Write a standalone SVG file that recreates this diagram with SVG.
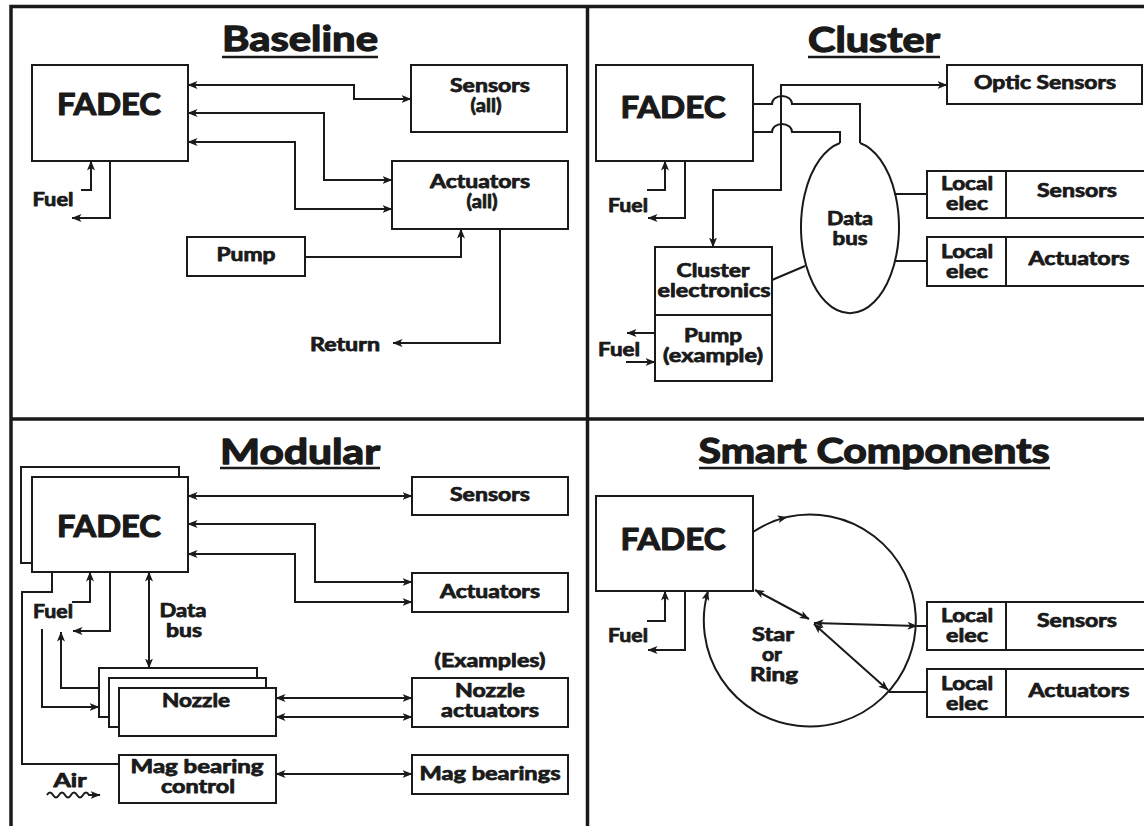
<svg xmlns="http://www.w3.org/2000/svg" width="1144" height="826" viewBox="0 0 1144 826">
<defs>
<marker id="ah" viewBox="0 0 10 8" markerWidth="10" markerHeight="8" refX="9.5" refY="4" orient="auto-start-reverse" markerUnits="userSpaceOnUse">
<path d="M0,0 L10,4 L0,8 L2.5,4 z" fill="#1a1a1a"/>
</marker>
<style>
.t{font-family:Lato,"Open Sans","Liberation Sans",sans-serif;font-weight:700;fill:#1a1a1a;stroke:#1a1a1a;stroke-linejoin:round;text-anchor:middle}
.ti{font-size:35px;stroke-width:1.3px}
.fd{font-size:31px;stroke-width:1.2px}
.l{font-size:18px;stroke-width:0.75px}
.b{fill:#fff;stroke:#1a1a1a;stroke-width:2}
.c{fill:none;stroke:#1a1a1a;stroke-width:2}
.a2{marker-start:url(#ah);marker-end:url(#ah)}
.a1{marker-end:url(#ah)}
.u{stroke:#1a1a1a;stroke-width:2.5}
.fr{stroke:#1a1a1a;stroke-width:3.5;fill:none}
</style>
</defs>
<rect width="1144" height="826" fill="#fff"/>
<g id="frame">
<path class="fr" d="M11,826 V6.5 H1144 M587.5,6.5 V826 M11,419 H1144"/>
</g>

<!-- Baseline -->
<g id="baseline-title"><text class="t ti" x="300" y="51" textLength="156" lengthAdjust="spacingAndGlyphs">Baseline</text><line class="u" x1="222" y1="57" x2="378" y2="57"/></g>
<g id="b-fadec"><rect class="b" x="32" y="65" width="156" height="96"/><text class="t fd" x="109" y="115" textLength="104" lengthAdjust="spacingAndGlyphs">FADEC</text></g>
<g id="b-sensors"><rect class="b" x="411" y="65" width="156" height="67"/><text class="t l" x="490" y="92" textLength="80" lengthAdjust="spacingAndGlyphs">Sensors</text><text class="t l" x="486" y="112" textLength="31" lengthAdjust="spacingAndGlyphs">(all)</text></g>
<g id="b-actuators"><rect class="b" x="392" y="161" width="176" height="68"/><text class="t l" x="480" y="188" textLength="100" lengthAdjust="spacingAndGlyphs">Actuators</text><text class="t l" x="482" y="208" textLength="31" lengthAdjust="spacingAndGlyphs">(all)</text></g>
<g id="b-pump"><rect class="b" x="187" y="237" width="118" height="39"/><text class="t l" x="246" y="261" textLength="59" lengthAdjust="spacingAndGlyphs">Pump</text></g>
<g id="b-fuel"><text class="t l" x="53" y="206" textLength="41" lengthAdjust="spacingAndGlyphs">Fuel</text></g>
<g id="b-return"><text class="t l" x="345" y="351" textLength="70" lengthAdjust="spacingAndGlyphs">Return</text></g>
<g id="b-connectors">
<path class="c a2" d="M188,85 H354 V99 H411"/>
<path class="c a2" d="M188,113 H324 V180 H392"/>
<path class="c a2" d="M188,142 H295 V209 H392"/>
<path class="c a1" d="M81,190 H91 V161"/>
<path class="c a1" d="M110,161 V218 H72"/>
<path class="c a1" d="M305,257 H461 V229"/>
<path class="c a1" d="M500,229 V343 H393"/>
</g>

<!-- Cluster -->
<g id="cluster-title"><text class="t ti" x="874" y="52" textLength="132" lengthAdjust="spacingAndGlyphs">Cluster</text><line class="u" x1="808" y1="57" x2="940" y2="57"/></g>
<g id="c-fadec"><rect class="b" x="596" y="65" width="157" height="96"/><text class="t fd" x="673" y="118" textLength="105" lengthAdjust="spacingAndGlyphs">FADEC</text></g>
<g id="c-optic"><rect class="b" x="947" y="65" width="195" height="39"/><text class="t l" x="1045" y="89" textLength="142" lengthAdjust="spacingAndGlyphs">Optic Sensors</text></g>
<g id="c-databus"><path class="c" d="M840,143 A49,86 0 1 0 860,143"/><text class="t l" x="850" y="225" textLength="46" lengthAdjust="spacingAndGlyphs">Data</text><text class="t l" x="850" y="245" textLength="35" lengthAdjust="spacingAndGlyphs">bus</text></g>
<g id="c-sensors"><rect class="b" x="927" y="171" width="230" height="47"/><line class="c" x1="1006" y1="171" x2="1006" y2="218"/><text class="t l" x="967" y="190" textLength="52" lengthAdjust="spacingAndGlyphs">Local</text><text class="t l" x="967" y="210" textLength="42" lengthAdjust="spacingAndGlyphs">elec</text><text class="t l" x="1077" y="197" textLength="80" lengthAdjust="spacingAndGlyphs">Sensors</text></g>
<g id="c-actuators"><rect class="b" x="927" y="237" width="230" height="49"/><line class="c" x1="1006" y1="237" x2="1006" y2="286"/><text class="t l" x="967" y="258" textLength="52" lengthAdjust="spacingAndGlyphs">Local</text><text class="t l" x="967" y="278" textLength="42" lengthAdjust="spacingAndGlyphs">elec</text><text class="t l" x="1079" y="265" textLength="101" lengthAdjust="spacingAndGlyphs">Actuators</text></g>
<g id="c-cluster-elec"><rect class="b" x="655" y="247" width="117" height="68"/><text class="t l" x="713" y="277" textLength="73" lengthAdjust="spacingAndGlyphs">Cluster</text><text class="t l" x="714" y="297" textLength="113" lengthAdjust="spacingAndGlyphs">electronics</text></g>
<g id="c-pump"><rect class="b" x="655" y="315" width="117" height="66"/><text class="t l" x="713" y="342" textLength="58" lengthAdjust="spacingAndGlyphs">Pump</text><text class="t l" x="713" y="362" textLength="100" lengthAdjust="spacingAndGlyphs">(example)</text></g>
<g id="c-fuel"><text class="t l" x="628" y="212" textLength="40" lengthAdjust="spacingAndGlyphs">Fuel</text><text class="t l" x="619" y="356" textLength="42" lengthAdjust="spacingAndGlyphs">Fuel</text></g>
<g id="c-connectors">
<path class="c a2" d="M713,247 V190 H781 V85 H947"/>
<path class="c" d="M753,104 H772 A10,8 0 0 1 792,104 H860 V143"/>
<path class="c" d="M753,132 H772 A10,8 0 0 1 792,132 H840 V143"/>
<path class="c" d="M894,194 H927"/>
<path class="c" d="M894,261 H927"/>
<path class="c" d="M772,280 L805,266"/>
<path class="c a1" d="M647,190 H665 V161"/>
<path class="c a1" d="M685,161 V218 H648"/>
<path class="c a1" d="M655,333 H627"/>
<path class="c a1" d="M626,362 H655"/>
</g>

<!-- Modular -->
<g id="modular-title"><text class="t ti" x="300" y="464" textLength="160" lengthAdjust="spacingAndGlyphs">Modular</text><line class="u" x1="220" y1="468" x2="380" y2="468"/></g>
<g id="m-fadec"><rect class="b" x="21" y="467" width="158" height="96"/><rect class="b" x="32" y="477" width="156" height="95"/><text class="t fd" x="109" y="537" textLength="104" lengthAdjust="spacingAndGlyphs">FADEC</text></g>
<g id="m-sensors"><rect class="b" x="412" y="477" width="156" height="38"/><text class="t l" x="490" y="501" textLength="80" lengthAdjust="spacingAndGlyphs">Sensors</text></g>
<g id="m-actuators"><rect class="b" x="412" y="573" width="156" height="39"/><text class="t l" x="490" y="598" textLength="100" lengthAdjust="spacingAndGlyphs">Actuators</text></g>
<g id="m-databus"><text class="t l" x="183" y="617" textLength="47" lengthAdjust="spacingAndGlyphs">Data</text><text class="t l" x="184" y="637" textLength="36" lengthAdjust="spacingAndGlyphs">bus</text></g>
<g id="m-nozzle"><rect class="b" x="99" y="668" width="158" height="49"/><rect class="b" x="109" y="678" width="157" height="49"/><rect class="b" x="119" y="688" width="157" height="48"/><text class="t l" x="196" y="707" textLength="68" lengthAdjust="spacingAndGlyphs">Nozzle</text></g>
<g id="m-examples"><text class="t l" x="490" y="667" textLength="111" lengthAdjust="spacingAndGlyphs">(Examples)</text></g>
<g id="m-nozzle-act"><rect class="b" x="412" y="678" width="156" height="49"/><text class="t l" x="490" y="697" textLength="70" lengthAdjust="spacingAndGlyphs">Nozzle</text><text class="t l" x="490" y="717" textLength="98" lengthAdjust="spacingAndGlyphs">actuators</text></g>
<g id="m-magctl"><rect class="b" x="119" y="755" width="157" height="48"/><text class="t l" x="197" y="773" textLength="133" lengthAdjust="spacingAndGlyphs">Mag bearing</text><text class="t l" x="198" y="793" textLength="74" lengthAdjust="spacingAndGlyphs">control</text></g>
<g id="m-magbear"><rect class="b" x="412" y="755" width="156" height="39"/><text class="t l" x="490" y="780" textLength="141" lengthAdjust="spacingAndGlyphs">Mag bearings</text></g>
<g id="m-fuel"><text class="t l" x="53" y="618" textLength="40" lengthAdjust="spacingAndGlyphs">Fuel</text><text class="t l" x="70" y="787" textLength="33" lengthAdjust="spacingAndGlyphs">Air</text></g>
<g id="m-connectors">
<path class="c a2" d="M188,496 H412"/>
<path class="c a2" d="M188,524 H315 V582 H412"/>
<path class="c a2" d="M188,554 H295 V602 H412"/>
<path class="c a2" d="M149,572 V668"/>
<path class="c a2" d="M276,698 H412"/>
<path class="c a2" d="M276,717 H412"/>
<path class="c a2" d="M276,774 H412"/>
<path class="c" d="M52,572 V592 H22 V764 H119"/>
<path class="c a1" d="M72,602 H90 V572"/>
<path class="c a1" d="M110,572 V631 H73"/>
<path class="c a1" d="M99,688 H61 V632"/>
<path class="c a1" d="M42,629 V707 H99"/>
<path class="c a1" d="M47,795 q3,-5 6,0 t6,0 t6,0 t6,0 t6,0 t6,0 t6,0 H100"/>
</g>

<!-- Smart Components -->
<g id="smart-title"><text class="t ti" x="874" y="463" textLength="351" lengthAdjust="spacingAndGlyphs">Smart Components</text><line class="u" x1="699" y1="468" x2="1050" y2="468"/></g>
<g id="s-fadec"><rect class="b" x="596" y="496" width="157" height="95"/><text class="t fd" x="673" y="550" textLength="105" lengthAdjust="spacingAndGlyphs">FADEC</text></g>
<g id="s-ring"><text class="t l" x="773" y="641" textLength="42" lengthAdjust="spacingAndGlyphs">Star</text><text class="t l" x="772" y="661" textLength="20" lengthAdjust="spacingAndGlyphs">or</text><text class="t l" x="774" y="681" textLength="48" lengthAdjust="spacingAndGlyphs">Ring</text></g>
<g id="s-sensors"><rect class="b" x="927" y="602" width="230" height="48"/><line class="c" x1="1006" y1="602" x2="1006" y2="650"/><text class="t l" x="967" y="622" textLength="52" lengthAdjust="spacingAndGlyphs">Local</text><text class="t l" x="967" y="642" textLength="42" lengthAdjust="spacingAndGlyphs">elec</text><text class="t l" x="1077" y="627" textLength="80" lengthAdjust="spacingAndGlyphs">Sensors</text></g>
<g id="s-actuators"><rect class="b" x="927" y="669" width="230" height="48"/><line class="c" x1="1006" y1="669" x2="1006" y2="717"/><text class="t l" x="967" y="690" textLength="52" lengthAdjust="spacingAndGlyphs">Local</text><text class="t l" x="967" y="710" textLength="42" lengthAdjust="spacingAndGlyphs">elec</text><text class="t l" x="1079" y="697" textLength="101" lengthAdjust="spacingAndGlyphs">Actuators</text></g>
<g id="s-fuel"><text class="t l" x="628" y="642" textLength="40" lengthAdjust="spacingAndGlyphs">Fuel</text></g>
<g id="s-connectors">
<path class="c a1" d="M753,532 A106,106 0 0 1 787,517"/>
<path class="c a1" d="M787,517 A106,106 0 1 1 708,591"/>
<path class="c a2" d="M755,590 L809,619"/>
<path class="c a2" d="M814,623 L917,626"/>
<path class="c a2" d="M814,624 L888,690"/>
<path class="c" d="M917,626 H927"/>
<path class="c" d="M889,692 H927"/>
<path class="c a1" d="M647,621 H665 V591"/>
<path class="c a1" d="M685,591 V650 H648"/>
</g>
</svg>
